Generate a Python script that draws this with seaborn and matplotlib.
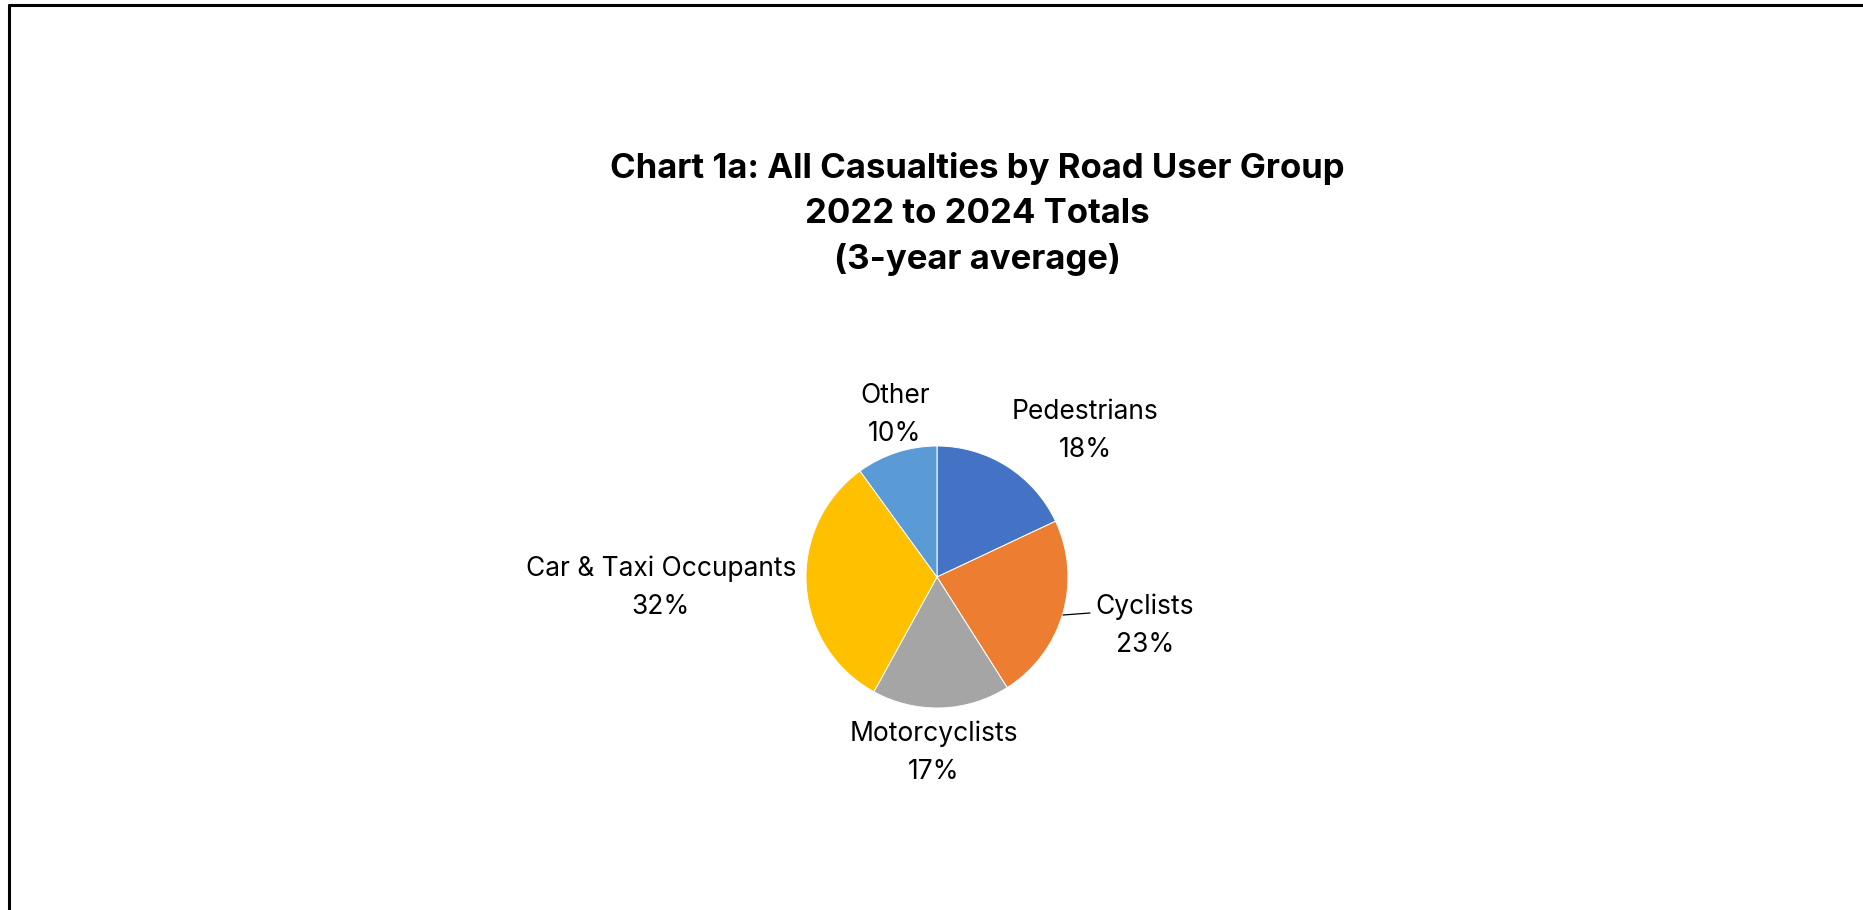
import matplotlib
matplotlib.use("Agg")
import matplotlib.pyplot as plt
from matplotlib.lines import Line2D
import seaborn as sns

# Road user groups, share of all casualties (%)
groups = ["Pedestrians", "Cyclists", "Motorcyclists", "Car & Taxi Occupants", "Other"]
shares = [18, 23, 17, 32, 10]
colors = ["#4472C4", "#ED7D31", "#A5A5A5", "#FFC000", "#5B9BD5"]

title_lines = [
    "Chart 1a: All Casualties by Road User Group",
    "2022 to 2024 Totals",
    "(3-year average)",
]

sns.set_theme(style="white")
plt.rcParams["font.family"] = ["Inter", "DejaVu Sans"]

W, H = 1863, 910
fig = plt.figure(figsize=(W / 100, H / 100), dpi=100)
ax = fig.add_axes([0, 0, 1, 1])

# pie geometry in pixel units (y measured upwards)
cx, cy, r = 937, H - 577, 131
wedges, _ = ax.pie(
    shares,
    colors=colors,
    startangle=90,
    counterclock=False,
    center=(cx, cy),
    radius=r,
    wedgeprops=dict(edgecolor="white", linewidth=0.7),
)
ax.set_xlim(0, W)
ax.set_ylim(0, H)
ax.set_aspect("equal")
ax.axis("off")

# label block offsets from the pie centre (pixels, y down)
label_offsets = [(148, -146), (208, 49), (-3, 176), (-276, 11), (-42, -162)]
for name, val, (dx, dy) in zip(groups, shares, label_offsets):
    ax.text(cx + dx, cy - dy, f"{name}\n{val:.0f}%", ha="center", va="center",
            fontsize=19, color="#000000", linespacing=1.6)

# leader line for the cyclists label
ax.add_line(Line2D([1063, 1090], [H - 615, H - 613], color="#000000", linewidth=0.9))

fig.text(977 / W, 1 - 214 / H, "\n".join(title_lines), ha="center", va="center",
         fontsize=25, fontweight="bold", color="#000000", linespacing=1.5)

# chart frame edges (top and left)
fig.add_artist(Line2D([9 / W, 1], [1 - 5 / H, 1 - 5 / H], transform=fig.transFigure,
                      color="#000000", linewidth=2.2))
fig.add_artist(Line2D([9 / W, 9 / W], [0, 1 - 5 / H], transform=fig.transFigure,
                      color="#000000", linewidth=2.2))

fig.savefig("out.png", dpi=100, facecolor="white")
